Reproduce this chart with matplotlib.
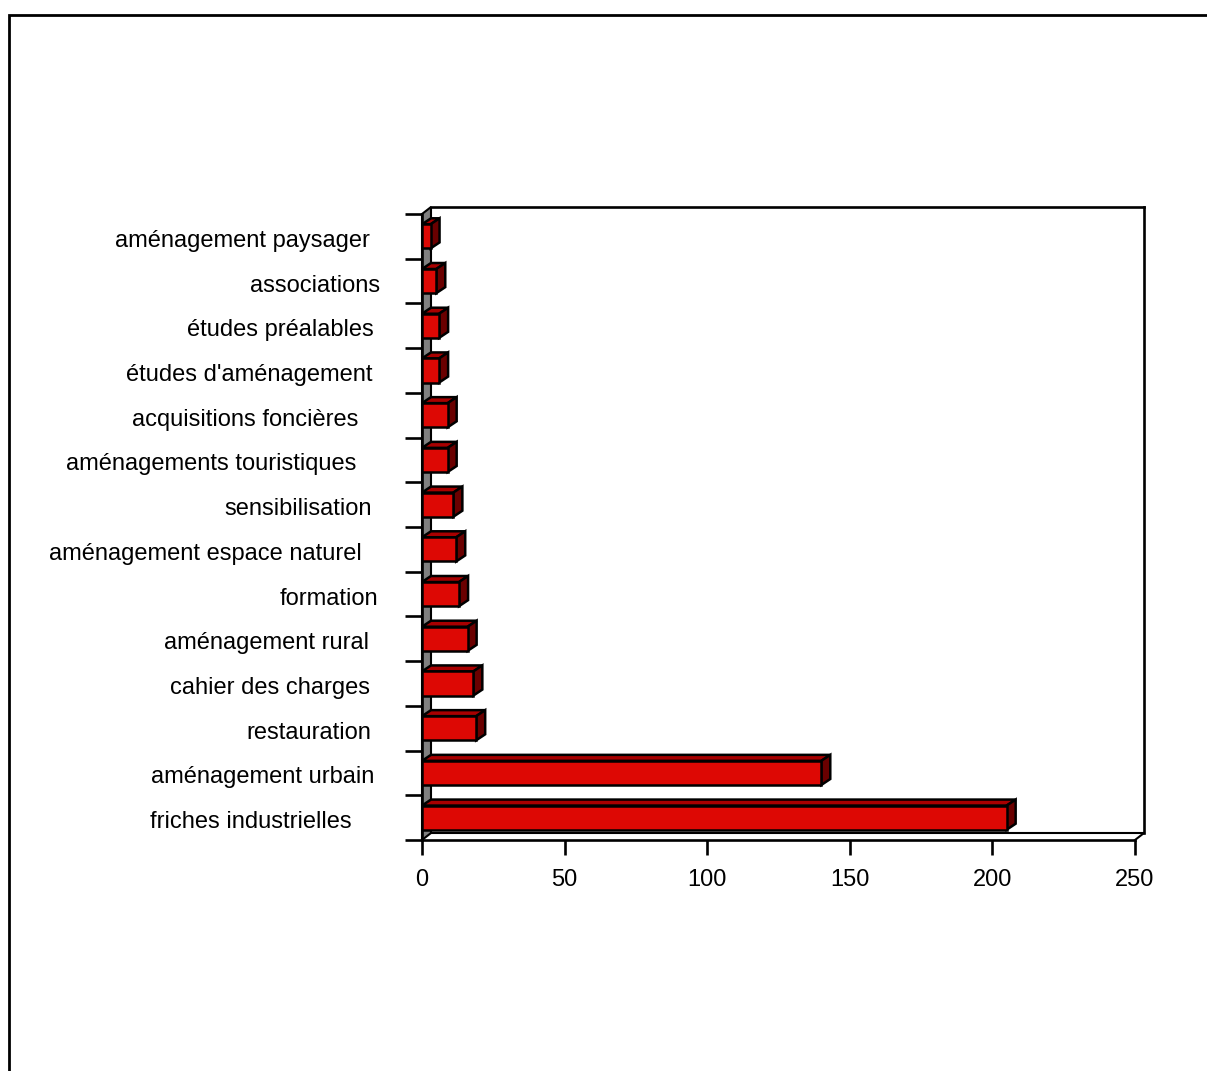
import numpy as np
import matplotlib
matplotlib.use('Agg')
import matplotlib.pyplot as plt
from matplotlib.patches import Polygon, Rectangle
from matplotlib import transforms

# categories listed top to bottom
categories = ['aménagement paysager', 'associations', 'études préalables',
              "études d'aménagement", 'acquisitions foncières',
              'aménagements touristiques', 'sensibilisation',
              'aménagement espace naturel', 'formation', 'aménagement rural',
              'cahier des charges', 'restauration', 'aménagement urbain',
              'friches industrielles']
values = [3, 5, 6, 6, 9, 9, 11, 12, 13, 16, 18, 19, 140, 205]
xticks = [0, 50, 100, 150, 200, 250]

# right end of each category label (pixels from left of figure)
label_right = [370, 380, 374, 373, 358, 356, 372, 362, 378, 369, 370, 371, 374, 352]

W, H = 1207, 1071
plt.rcParams['font.family'] = ['Liberation Sans', 'DejaVu Sans']

fig = plt.figure(figsize=(W / 100, H / 100), dpi=100)
ax = fig.add_axes([422 / W, (H - 840) / H, 713 / W, 626 / H])

n = len(categories)
ypos = np.arange(n)[::-1]  # first category at the top
xmax = 250
ax.set_xlim(0, xmax)
ax.set_ylim(-0.5, n - 0.5)

# depth offsets (data units) for the walls and the bars
px_x = 713 / xmax
px_y = 626 / n
wdx, wdy = 9 / px_x, 7 / px_y
bdx, bdy = 9 / px_x, 6 / px_y

front_c = '#dd0804'
top_c = '#a80000'
side_c = '#6a0000'
lw = 1.9
blw = 1.8

# left wall (grey) and back plane outline
wall = Polygon([(0, -0.5), (0, n - 0.5), (wdx, n - 0.5 + wdy), (wdx, -0.5 + wdy)],
               closed=True, facecolor='#808080', edgecolor='black', lw=1.5,
               clip_on=False, zorder=1)
ax.add_patch(wall)
top_y = n - 0.5 + wdy
floor_y = -0.5 + wdy
ax.plot([wdx, xmax + wdx], [top_y, top_y], color='black', lw=lw, clip_on=False, zorder=1)
ax.plot([xmax + wdx, xmax + wdx], [top_y, floor_y], color='black', lw=lw, clip_on=False, zorder=1)
ax.plot([wdx, xmax + wdx], [floor_y, floor_y], color='black', lw=1.5, clip_on=False, zorder=1)
ax.plot([xmax, xmax + wdx], [-0.5, floor_y], color='black', lw=1.5, clip_on=False, zorder=1)

# 3D bars: front face, top face and right side
h = 0.54
for y, v in zip(ypos, values):
    y0, y1 = y - h / 2, y + h / 2
    top = Polygon([(0, y1), (v, y1), (v + bdx, y1 + bdy), (bdx, y1 + bdy)],
                  closed=True, facecolor=top_c, edgecolor='black', lw=blw,
                  joinstyle='miter', clip_on=False, zorder=3)
    side = Polygon([(v, y0), (v + bdx, y0 + bdy), (v + bdx, y1 + bdy), (v, y1)],
                   closed=True, facecolor=side_c, edgecolor='black', lw=blw,
                   joinstyle='miter', clip_on=False, zorder=3)
    ax.add_patch(top)
    ax.add_patch(side)
    ax.barh(y, v, height=h, color=front_c, edgecolor='black', lw=blw, zorder=4)

for s in ['top', 'right']:
    ax.spines[s].set_visible(False)
for s in ['left', 'bottom']:
    ax.spines[s].set_linewidth(lw)
    ax.spines[s].set_zorder(2)

ax.set_xticks(xticks)
ax.set_xticklabels([str(t) for t in xticks], fontsize=17)
ax.tick_params(axis='x', direction='out', length=11, width=lw, pad=10)
ax.set_yticks(np.arange(n + 1) - 0.5)
ax.set_yticklabels([])
ax.tick_params(axis='y', direction='out', length=12.5, width=lw)

# category labels
trans = transforms.blended_transform_factory(fig.transFigure, ax.transData)
for y, lab, xr in zip(ypos, categories, label_right):
    ax.text(xr / W, y - 0.1, lab, transform=trans, ha='right', va='center',
            fontsize=17)

# frame around the chart area
fig.add_artist(Rectangle((9 / W, -0.2), 1.2, 1 - 15 / H + 0.2, transform=fig.transFigure,
                         fill=False, edgecolor='black', lw=2))

fig.savefig('out.png', dpi=100)
